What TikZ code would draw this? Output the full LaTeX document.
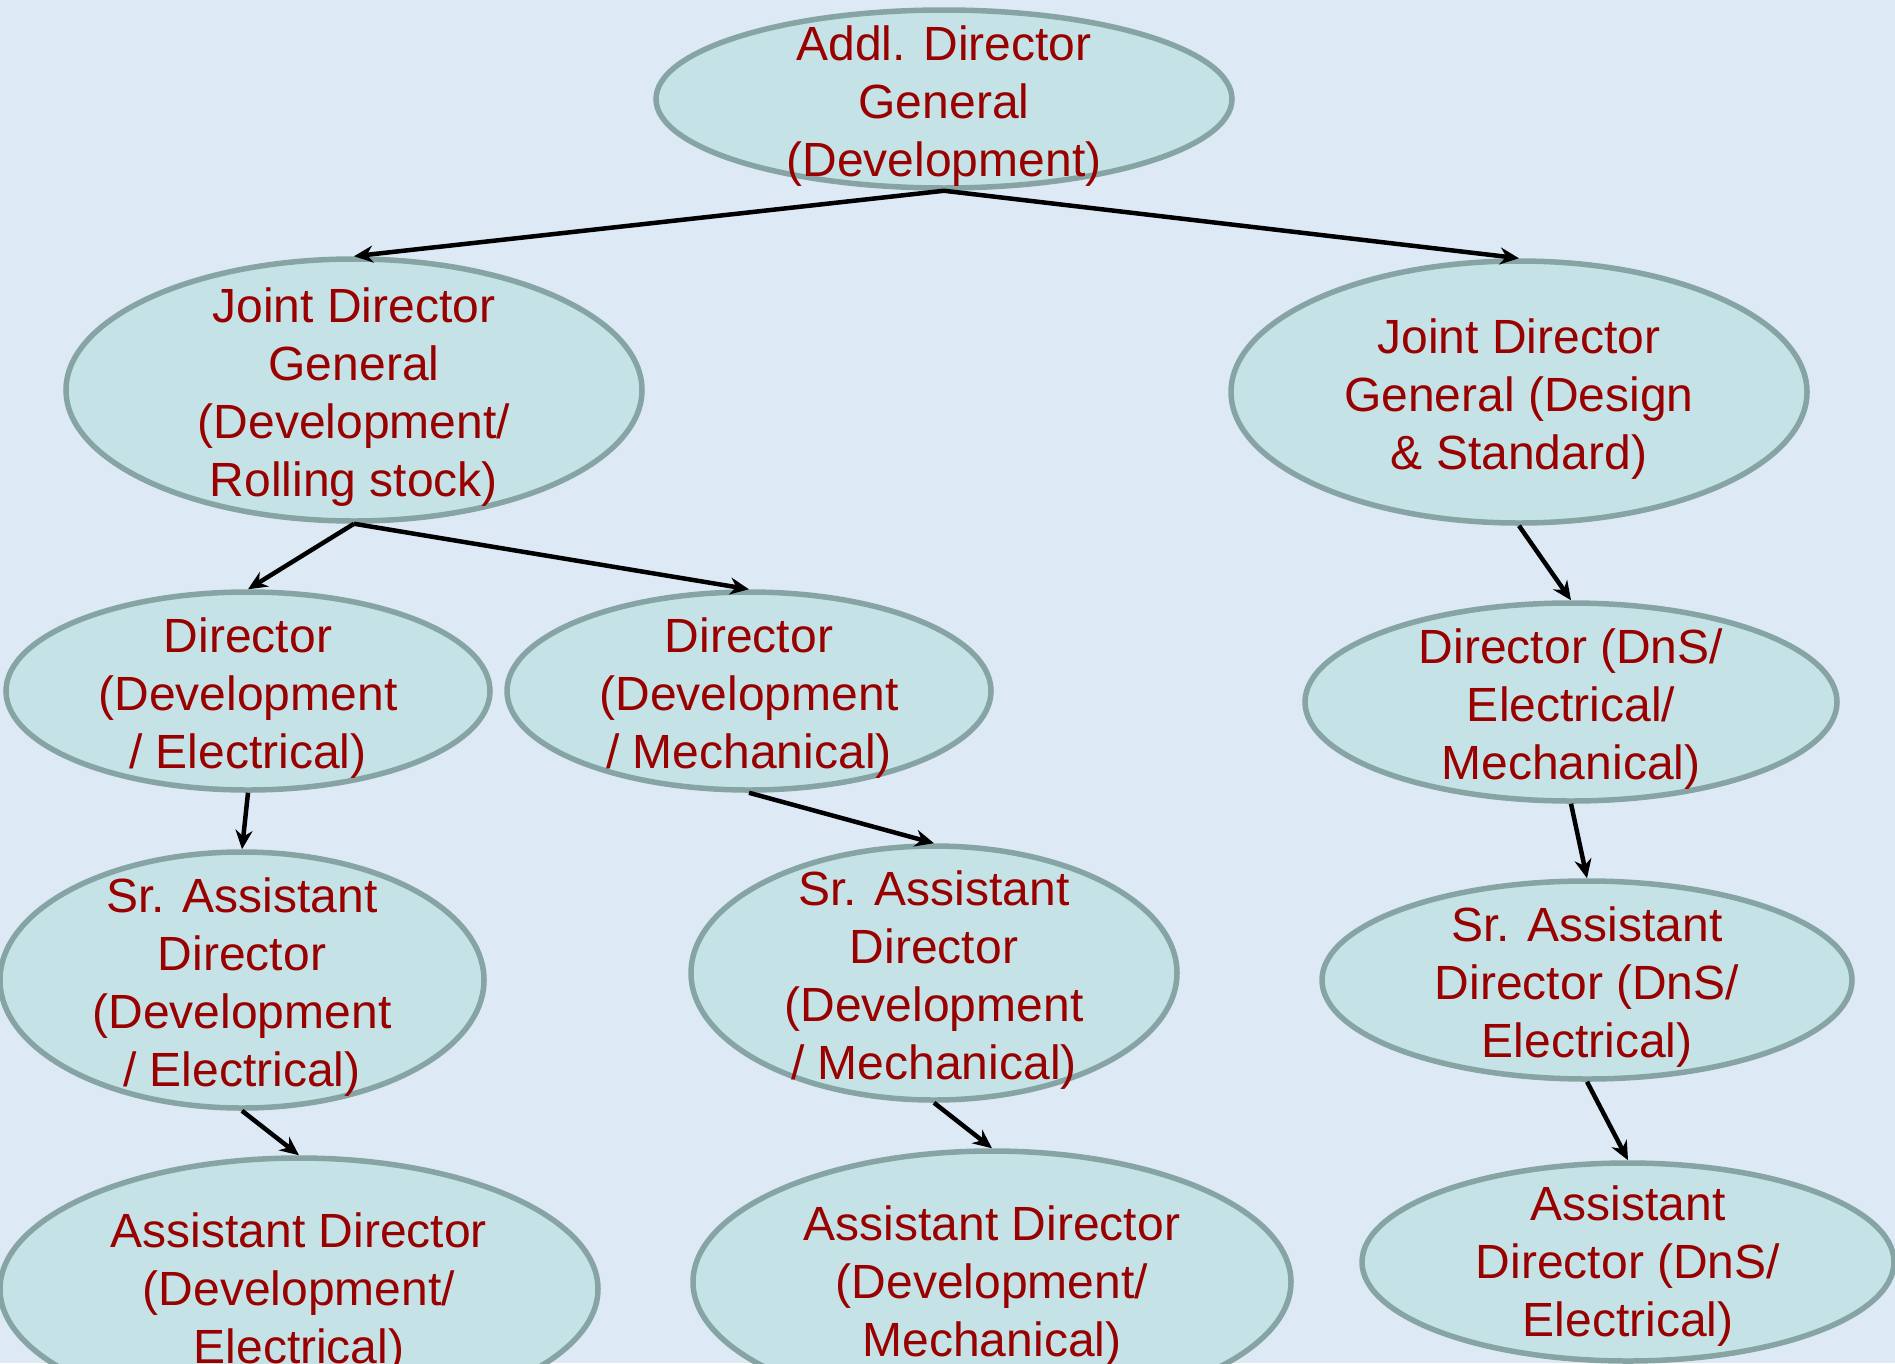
\documentclass[tikz,border=0pt]{standalone}
\usepackage{fontspec}
\setmainfont{Liberation Sans}
\usetikzlibrary{shapes.geometric,arrows.meta}
\definecolor{bgblue}{RGB}{221,234,246}
\definecolor{ellfill}{RGB}{197,226,230}
\definecolor{elldraw}{RGB}{134,164,164}
\definecolor{txtred}{RGB}{153,0,0}
\tikzset{
  ell/.style={ellipse, draw=elldraw, fill=ellfill, line width=5.5pt, inner sep=0pt},
  txt/.style={align=center, text=txtred, inner sep=0pt, font=\fontsize{48}{58}\selectfont},
  arr/.style={-{Stealth[length=19pt,width=17pt]}, line width=4.5pt, black}
}
\begin{document}
\begin{tikzpicture}[x=1pt,y=-1pt]
\useasboundingbox (0,0) rectangle (1895,1363);
\clip (0,0) rectangle (1895,1363);
\fill[bgblue] (0,0) rectangle (1895,1363);
% ellipses
\node[ell, minimum width=576pt, minimum height=178pt] (A) at (944,99) {};
\node[ell, minimum width=576pt, minimum height=262pt] (B) at (354,390) {};
\node[ell, minimum width=576pt, minimum height=262pt] (C) at (1519,392) {};
\node[ell, minimum width=484pt, minimum height=198pt] (D) at (248,691) {};
\node[ell, minimum width=484pt, minimum height=198pt] (E) at (749,691) {};
\node[ell, minimum width=532pt, minimum height=198pt] (F) at (1571,702) {};
\node[ell, minimum width=484pt, minimum height=256pt] (G) at (242,980) {};
\node[ell, minimum width=486pt, minimum height=254pt] (H) at (934,973) {};
\node[ell, minimum width=530pt, minimum height=198pt] (I) at (1587,980) {};
\node[ell, minimum width=598pt, minimum height=262pt] (J) at (299,1289) {};
\node[ell, minimum width=598pt, minimum height=262pt] (K) at (992,1282) {};
\node[ell, minimum width=532pt, minimum height=198pt] (L) at (1628,1262) {};
% texts
\node[txt] (At) at ([yshift=-7pt]A.center) {Addl. Director\\General\\(Development)};
\node[txt] (Bt) at ([yshift=-7pt]B.center) {Joint Director\\General\\(Development/\\Rolling stock)};
\node[txt] (Ct) at ([yshift=-7pt]C.center) {Joint Director\\General (Design\\\& Standard)};
\node[txt] (Dt) at ([yshift=-7pt]D.center) {Director\\(Development\\/ Electrical)};
\node[txt] (Et) at ([yshift=-7pt]E.center) {Director\\(Development\\/ Mechanical)};
\node[txt] (Ft) at ([yshift=-7pt]F.center) {Director (DnS/\\Electrical/\\Mechanical)};
\node[txt] (Gt) at ([yshift=-7pt]G.center) {Sr. Assistant\\Director\\(Development\\/ Electrical)};
\node[txt] (Ht) at ([yshift=-7pt]H.center) {Sr. Assistant\\Director\\(Development\\/ Mechanical)};
\node[txt] (It) at ([yshift=-7pt]I.center) {Sr. Assistant\\Director (DnS/\\Electrical)};
\node[txt] (Jt) at ([yshift=-4pt]J.center) {Assistant Director\\(Development/\\Electrical)};
\node[txt] (Kt) at ([yshift=-4pt]K.center) {Assistant Director\\(Development/\\Mechanical)};
\node[txt] (Lt) at ([yshift=-4pt]L.center) {Assistant\\Director (DnS/\\Electrical)};
% connectors
\draw[arr] (A.south) -- (B.north);
\draw[arr] (A.south) -- (C.north);
\draw[arr] (B.south) -- (D.north);
\draw[arr] (B.south) -- (E.north);
\draw[arr] (C.south) -- (F.north);
\draw[arr] (D.south) -- (G.north);
\draw[arr] (E.south) -- (H.north);
\draw[arr] (F.south) -- (I.north);
\draw[arr] (G.south) -- (J.north);
\draw[arr] (H.south) -- (K.north);
\draw[arr] (I.south) -- (L.north);
\end{tikzpicture}
\end{document}
